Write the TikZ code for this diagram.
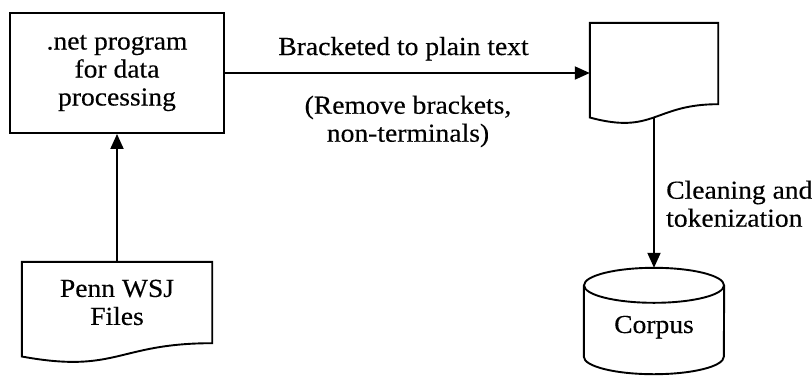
\documentclass[tikz,border=0pt]{standalone}
\usepackage{fontspec}
\setmainfont{Liberation Serif}[FakeStretch=1.06, FakeBold=0.3]
\usetikzlibrary{arrows.meta}

% wavy-bottom "document" outline drawn on the anchors of an empty node
\newcommand\docoutline[1]{%
  \draw[outline] (#1.north west) -- (#1.north east) -- ([yshift=20pt]#1.south east)
    .. controls ([yshift=20pt]#1.south) and ([yshift=-10.8pt]#1.south)
    .. ([yshift=6.7pt]#1.south west) -- cycle;}

\begin{document}
\begin{tikzpicture}[x=1pt,y=-1pt,
  outline/.style={draw=black, line width=1.9pt, line join=miter},
  flow/.style={draw=black, line width=1.9pt, -{Triangle[length=15pt,width=13pt]}},
  procbox/.style={outline, minimum width=214pt, minimum height=120pt, inner sep=0pt, align=center},
  docarea/.style={minimum width=#1, minimum height=101pt, inner sep=0pt},
  txt/.style={inner sep=0pt, align=center},
  font=\fontsize{26}{28}\selectfont]

\useasboundingbox (0,0) rectangle (812,376);

% process box
\node[procbox] (prog) at (117,73) {.net program\\for data\\processing};

% input documents
\node[docarea=190pt] (penn) at (117,312.5) {};
\docoutline{penn}
\node[txt, anchor=north] (penn-text) at (117,279.5) {Penn WSJ\\Files};

% intermediate plain-text document
\node[docarea=128pt] (plain) at (654,73.5) {};
\docoutline{plain}
\coordinate (plain-foot) at ([yshift=6.8pt]plain.south);

% corpus store (cylinder)
\node[minimum width=140pt, minimum height=106pt, inner sep=0pt] (store) at (654,321) {};
\draw[outline] ([yshift=-17.5pt]store.north west) -- ([yshift=17.5pt]store.south west)
  arc[start angle=180, end angle=360, x radius=70pt, y radius=17.5pt]
  -- ([yshift=-17.5pt]store.north east);
\draw[outline] ([yshift=-17.5pt]store.north) ellipse[x radius=70pt, y radius=17.5pt];
\node[txt, anchor=base] (corpus) at (654,333) {Corpus};

% connectors
\draw[flow] (penn.north) -- (prog.south);
\draw[flow] (prog.east) -- (prog.east -| plain.west);
\draw[flow] (plain-foot) -- (store.north);

% connector labels
\node[txt, anchor=base] (conv) at (403.5,55) {Bracketed to plain text};
\node[txt, anchor=north] (conv-note) at (408,95.5) {(Remove brackets,\\non-terminals)};
\node[txt, align=left, anchor=north west] (clean) at (666,180.5) {Cleaning and\\tokenization};

\end{tikzpicture}
\end{document}
